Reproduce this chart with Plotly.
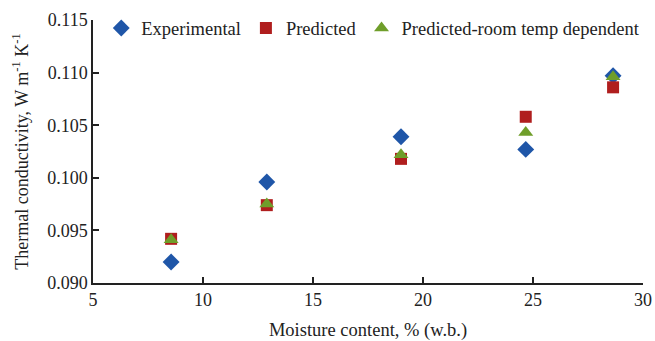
import plotly.graph_objects as go

moisture = [8.55, 12.9, 19.0, 24.67, 28.64]
experimental = [0.0920, 0.0996, 0.1039, 0.1027, 0.1097]
predicted = [0.0942, 0.0974, 0.1018, 0.1058, 0.1086]
predicted_room = [0.0941, 0.0975, 0.1022, 0.1043, 0.1096]

x_ticks = [5, 10, 15, 20, 25, 30]
y_ticks = [0.090, 0.095, 0.100, 0.105, 0.110, 0.115]

font = dict(family="Liberation Serif, Times New Roman, serif", size=16, color="#222")

fig = go.Figure()
fig.add_trace(go.Scatter(x=moisture, y=experimental, mode="markers", name="Experimental",
                         marker=dict(symbol="diamond", size=13, color="#1f56a8")))
fig.add_trace(go.Scatter(x=moisture, y=predicted, mode="markers", name="Predicted",
                         marker=dict(symbol="square", size=12, color="#b01e1e")))
fig.add_trace(go.Scatter(x=moisture, y=predicted_room, mode="markers", name="Predicted-room temp dependent",
                         marker=dict(symbol="triangle-up", size=13, color="#6f9e2a")))

fig.update_layout(
    width=655, height=341,
    margin=dict(l=93, r=12, t=20, b=58, autoexpand=False),
    paper_bgcolor="white", plot_bgcolor="white",
    font=font,
    showlegend=True,
    legend=dict(orientation="h", x=0.015, y=1.04, xanchor="left", yanchor="top",
                bgcolor="rgba(0,0,0,0)", font=dict(size=18.5), itemwidth=30,
                tracegroupgap=0),
    xaxis=dict(range=[5, 30], tickvals=x_ticks, ticktext=[str(v) for v in x_ticks],
               showgrid=False, zeroline=False, showline=True, linecolor="#222", linewidth=1.5,
               ticks="inside", ticklen=6, tickcolor="#222", tickwidth=1.5, automargin=False,
               tickfont=dict(size=18),
               title=dict(text="Moisture content, % (w.b.)", standoff=16, font=dict(size=18.5))),
    yaxis=dict(range=[0.090, 0.115], tickvals=y_ticks, ticktext=[f"{v:.3f}" for v in y_ticks],
               showgrid=False, zeroline=False, showline=True, linecolor="#222", linewidth=1.5,
               ticks="inside", ticklen=6, tickcolor="#222", tickwidth=1.5, automargin=False,
               tickfont=dict(size=18),
               title=dict(text="Thermal conductivity, W m<sup>-1</sup> K<sup>-1</sup>", standoff=14,
                          font=dict(size=18))),
)

fig.write_html("out.html", config={"displayModeBar": False},
               post_script="document.body.style.margin='0px';")
